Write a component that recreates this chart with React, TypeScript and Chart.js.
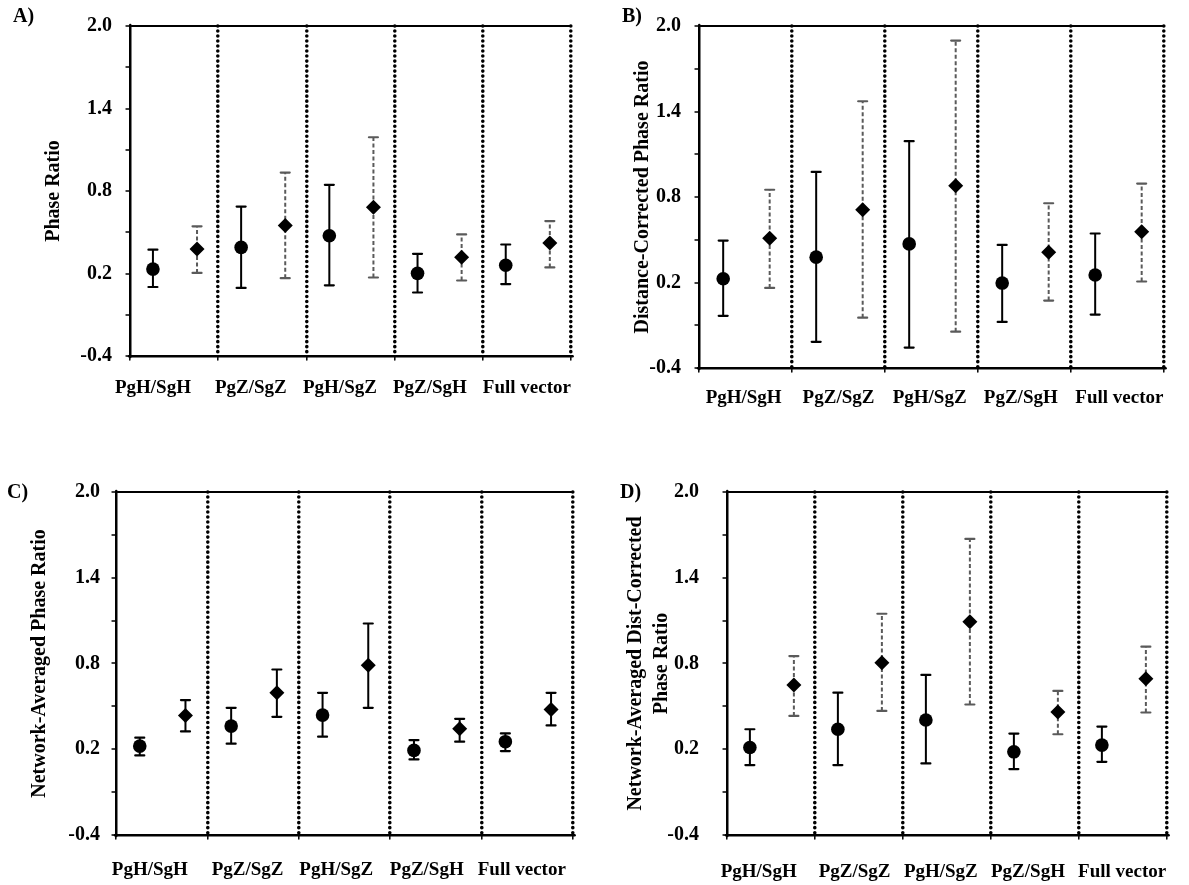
import React, { useEffect, useRef } from 'react';
import { Chart, registerables } from 'chart.js';

Chart.register(...registerables);

// ---------- shared axis content ----------
const categories = ['PgH/SgH', 'PgZ/SgZ', 'PgH/SgZ', 'PgZ/SgH', 'Full vector'];
const groupBoundaries = [0, 1, 2, 3, 4, 5];
const yTickValues = [-0.4, -0.1, 0.2, 0.5, 0.8, 1.1, 1.4, 1.7, 2.0];
const yLabelValues = [-0.4, 0.2, 0.8, 1.4, 2.0];
const Y_MIN = -0.4;
const Y_MAX = 2.0;

// ---------- Panel A: Phase Ratio ----------
const aCircleMean = [0.232, 0.39, 0.475, 0.201, 0.26];
const aCircleLow = [0.102, 0.095, 0.114, 0.062, 0.123];
const aCircleHigh = [0.373, 0.687, 0.845, 0.343, 0.411];
const aDiamondMean = [0.378, 0.55, 0.682, 0.319, 0.421];
const aDiamondLow = [0.204, 0.166, 0.171, 0.149, 0.244];
const aDiamondHigh = [0.543, 0.934, 1.191, 0.484, 0.581];
const aLabelTicks = [0.26, 1.37, 2.38, 3.4, 4.5];

// ---------- Panel B: Distance-Corrected Phase Ratio ----------
const bCircleMean = [0.226, 0.378, 0.471, 0.196, 0.253];
const bCircleLow = [-0.034, -0.216, -0.257, -0.077, -0.025];
const bCircleHigh = [0.494, 0.976, 1.192, 0.464, 0.544];
const bDiamondMean = [0.51, 0.71, 0.879, 0.412, 0.556];
const bDiamondLow = [0.162, -0.047, -0.145, 0.073, 0.207];
const bDiamondHigh = [0.851, 1.472, 1.898, 0.756, 0.894];
const bLabelTicks = [0.48, 1.5, 2.48, 3.46, 4.52];

// ---------- Panel C: Network-Averaged Phase Ratio ----------
const cCircleMean = [0.222, 0.362, 0.439, 0.192, 0.253];
const cCircleLow = [0.157, 0.239, 0.288, 0.129, 0.187];
const cCircleHigh = [0.281, 0.49, 0.595, 0.264, 0.311];
const cDiamondMean = [0.437, 0.595, 0.788, 0.343, 0.479];
const cDiamondLow = [0.325, 0.427, 0.49, 0.253, 0.367];
const cDiamondHigh = [0.544, 0.758, 1.08, 0.413, 0.595];
const cLabelTicks = [0.37, 1.44, 2.41, 3.4, 4.44];

// ---------- Panel D: Network-Averaged Dist-Corrected Phase Ratio ----------
const dCircleMean = [0.212, 0.34, 0.405, 0.182, 0.229];
const dCircleLow = [0.089, 0.089, 0.101, 0.061, 0.112];
const dCircleHigh = [0.34, 0.596, 0.72, 0.31, 0.359];
const dDiamondMean = [0.65, 0.806, 1.092, 0.461, 0.694];
const dDiamondLow = [0.433, 0.468, 0.513, 0.305, 0.457];
const dDiamondHigh = [0.852, 1.148, 1.672, 0.608, 0.918];
const dLabelTicks = [0.36, 1.45, 2.43, 3.42, 4.49];

// position of the two markers inside each group (in group units)
const CIRCLE_OFFSET = 0.26;
const DIAMOND_OFFSET = 0.76;

const FONT = '"Liberation Serif", "Times New Roman", Times, serif';

type Panel = {
  letter: string;
  title: string | string[];
  circleMean: number[];
  circleLow: number[];
  circleHigh: number[];
  diamondMean: number[];
  diamondLow: number[];
  diamondHigh: number[];
  labelTicks: number[];
  diamondBarColor: string;
  diamondBarDash: number[];
  box: { left: number; top: number; w: number; h: number };
  yAxisWidth: number;
  padRight: number;
  padTop: number;
  xAxisHeight: number;
  yTickPad: number;
  xTickPad: number;
  titlePad: number;
  letterPos: { x: number; y: number };
};

const panels: Panel[] = [
  {
    letter: 'A)',
    title: 'Phase Ratio',
    circleMean: aCircleMean, circleLow: aCircleLow, circleHigh: aCircleHigh,
    diamondMean: aDiamondMean, diamondLow: aDiamondLow, diamondHigh: aDiamondHigh,
    labelTicks: aLabelTicks,
    diamondBarColor: '#5a5a5a', diamondBarDash: [4, 2.5],
    box: { left: 0, top: 0, w: 594, h: 430 },
    yAxisWidth: 130, padRight: 23, padTop: 17, xAxisHeight: 74,
    yTickPad: 14, xTickPad: 17, titlePad: 41,
    letterPos: { x: 13, y: 17 },
  },
  {
    letter: 'B)',
    title: 'Distance-Corrected Phase Ratio',
    circleMean: bCircleMean, circleLow: bCircleLow, circleHigh: bCircleHigh,
    diamondMean: bDiamondMean, diamondLow: bDiamondLow, diamondHigh: bDiamondHigh,
    labelTicks: bLabelTicks,
    diamondBarColor: '#5a5a5a', diamondBarDash: [4, 2.5],
    box: { left: 594, top: 0, w: 595, h: 430 },
    yAxisWidth: 105, padRight: 25, padTop: 17, xAxisHeight: 62,
    yTickPad: 14, xTickPad: 15, titlePad: 36,
    letterPos: { x: 28, y: 17 },
  },
  {
    letter: 'C)',
    title: 'Network-Averaged Phase Ratio',
    circleMean: cCircleMean, circleLow: cCircleLow, circleHigh: cCircleHigh,
    diamondMean: cDiamondMean, diamondLow: cDiamondLow, diamondHigh: cDiamondHigh,
    labelTicks: cLabelTicks,
    diamondBarColor: '#000000', diamondBarDash: [],
    box: { left: 0, top: 430, w: 594, h: 455 },
    yAxisWidth: 116, padRight: 21, padTop: 62, xAxisHeight: 50,
    yTickPad: 12, xTickPad: 20, titlePad: 27,
    letterPos: { x: 7, y: 63 },
  },
  {
    letter: 'D)',
    title: ['Network-Averaged Dist-Corrected', 'Phase Ratio'],
    circleMean: dCircleMean, circleLow: dCircleLow, circleHigh: dCircleHigh,
    diamondMean: dDiamondMean, diamondLow: dDiamondLow, diamondHigh: dDiamondHigh,
    labelTicks: dLabelTicks,
    diamondBarColor: '#5a5a5a', diamondBarDash: [4, 2.5],
    box: { left: 594, top: 430, w: 595, h: 455 },
    yAxisWidth: 133, padRight: 7, padTop: 62, xAxisHeight: 50,
    yTickPad: 24, xTickPad: 22, titlePad: 29,
    letterPos: { x: 26, y: 63 },
  },
];

function barPoints(low: number[], high: number[], offset: number) {
  const pts: { x: number; y: number | null }[] = [];
  for (let i = 0; i < low.length; i++) {
    pts.push({ x: i + offset, y: low[i] });
    pts.push({ x: i + offset, y: high[i] });
    pts.push({ x: i + offset, y: null });
  }
  return pts;
}

function PanelChart({ p }: { p: Panel }) {
  const ref = useRef<HTMLCanvasElement>(null);

  useEffect(() => {
    const canvas = ref.current;
    if (!canvas) return;

    const circlePts = p.circleMean.map((v, i) => ({ x: i + CIRCLE_OFFSET, y: v }));
    const diamondPts = p.diamondMean.map((v, i) => ({ x: i + DIAMOND_OFFSET, y: v }));
    const xTickValues = [...groupBoundaries, ...p.labelTicks].sort((a, b) => a - b);
    const isBoundary = (v: number) => groupBoundaries.includes(v);

    const chart = new Chart(canvas, {
      type: 'scatter',
      data: {
        datasets: [
          {
            data: circlePts,
            pointStyle: 'circle',
            pointRadius: 6.8,
            pointBackgroundColor: '#000',
            pointBorderColor: '#000',
            pointBorderWidth: 0,
          },
          {
            data: diamondPts,
            pointStyle: 'rectRot',
            pointRadius: 7.5,
            pointBackgroundColor: '#000',
            pointBorderColor: '#000',
            pointBorderWidth: 0,
          },
          {
            data: barPoints(p.circleLow, p.circleHigh, CIRCLE_OFFSET),
            showLine: true,
            borderColor: '#000',
            borderWidth: 2,
            pointStyle: 'line',
            pointRadius: 4.5,
            pointBorderWidth: 2.2,
            pointBorderColor: '#000',
          },
          {
            data: barPoints(p.diamondLow, p.diamondHigh, DIAMOND_OFFSET),
            showLine: true,
            borderColor: p.diamondBarColor,
            borderDash: p.diamondBarDash,
            borderWidth: 2,
            pointStyle: 'line',
            pointRadius: 4.5,
            pointBorderWidth: 2.2,
            pointBorderColor: p.diamondBarColor,
          },
        ] as any,
      },
      options: {
        animation: false,
        responsive: false,
        maintainAspectRatio: false,
        events: [],
        layout: { padding: { left: 0, top: p.padTop, right: p.padRight, bottom: 0 } },
        plugins: {
          legend: { display: false },
          tooltip: { enabled: false },
          title: { display: false },
        },
        scales: {
          x: {
            type: 'linear',
            position: 'bottom',
            min: 0,
            max: 5,
            afterBuildTicks: (axis: any) => {
              axis.ticks = xTickValues.map((v) => ({ value: v }));
            },
            afterFit: (axis: any) => {
              axis.height = p.xAxisHeight;
            },
            ticks: {
              autoSkip: false,
              maxRotation: 0,
              minRotation: 0,
              padding: p.xTickPad,
              color: '#000',
              font: { family: FONT, size: 19, weight: 'bold', lineHeight: 1.2 },
              callback: (value: any) => {
                const idx = p.labelTicks.indexOf(Number(value));
                return idx >= 0 ? categories[idx] : '';
              },
            },
            grid: {
              color: (ctx: any) =>
                ctx.tick && isBoundary(ctx.tick.value) && ctx.tick.value > 0 ? '#000' : 'rgba(0,0,0,0)',
              lineWidth: 3.6,
              drawTicks: true,
              tickLength: 4,
              tickWidth: 1.5,
              tickColor: (ctx: any) =>
                ctx.tick && isBoundary(ctx.tick.value) ? '#000' : 'rgba(0,0,0,0)',
            },
            border: { display: true, color: '#000', width: 2.5, dash: [0.01, 5] },
          },
          y: {
            type: 'linear',
            min: Y_MIN,
            max: Y_MAX,
            afterBuildTicks: (axis: any) => {
              axis.ticks = yTickValues.map((v) => ({ value: v }));
            },
            afterFit: (axis: any) => {
              axis.width = p.yAxisWidth;
            },
            ticks: {
              autoSkip: false,
              padding: p.yTickPad,
              color: '#000',
              font: { family: FONT, size: 20, weight: 'bold' },
              callback: (value: any) => {
                const v = Number(value);
                return yLabelValues.some((l) => Math.abs(l - v) < 1e-9) ? v.toFixed(1) : '';
              },
            },
            grid: {
              color: (ctx: any) =>
                ctx.tick && Math.abs(ctx.tick.value - Y_MAX) < 1e-9 ? '#000' : 'rgba(0,0,0,0)',
              lineWidth: 2,
              drawTicks: true,
              tickLength: 4,
              tickWidth: 1.3,
              tickColor: '#000',
            },
            border: { display: true, color: '#000', width: 2.5 },
            title: {
              display: true,
              text: p.title,
              color: '#000',
              padding: p.titlePad,
              font: { family: FONT, size: 20, weight: 'bold', lineHeight: 1.3 },
            },
          },
        },
      } as any,
      plugins: [
        {
          id: 'roundCaps',
          beforeDraw: (c: any) => {
            c.ctx.lineCap = 'round';
          },
        },
        {
          id: 'panelLetter',
          afterDraw: (c: any) => {
            const ctx = c.ctx;
            ctx.save();
            ctx.fillStyle = '#000';
            ctx.font = `bold 20px ${FONT}`;
            ctx.textAlign = 'left';
            ctx.textBaseline = 'middle';
            ctx.fillText(p.letter, p.letterPos.x, p.letterPos.y);
            ctx.restore();
          },
        },
      ],
    });

    return () => chart.destroy();
  }, [p]);

  return (
    <canvas
      ref={ref}
      width={p.box.w}
      height={p.box.h}
      style={{
        position: 'absolute',
        left: p.box.left,
        top: p.box.top,
        width: p.box.w,
        height: p.box.h,
      }}
    />
  );
}

export default function App() {
  return (
    <div
      style={{
        position: 'fixed',
        left: 0,
        top: 0,
        width: 1189,
        height: 885,
        background: '#ffffff',
        overflow: 'hidden',
      }}
    >
      {panels.map((p) => (
        <PanelChart key={p.letter} p={p} />
      ))}
    </div>
  );
}
